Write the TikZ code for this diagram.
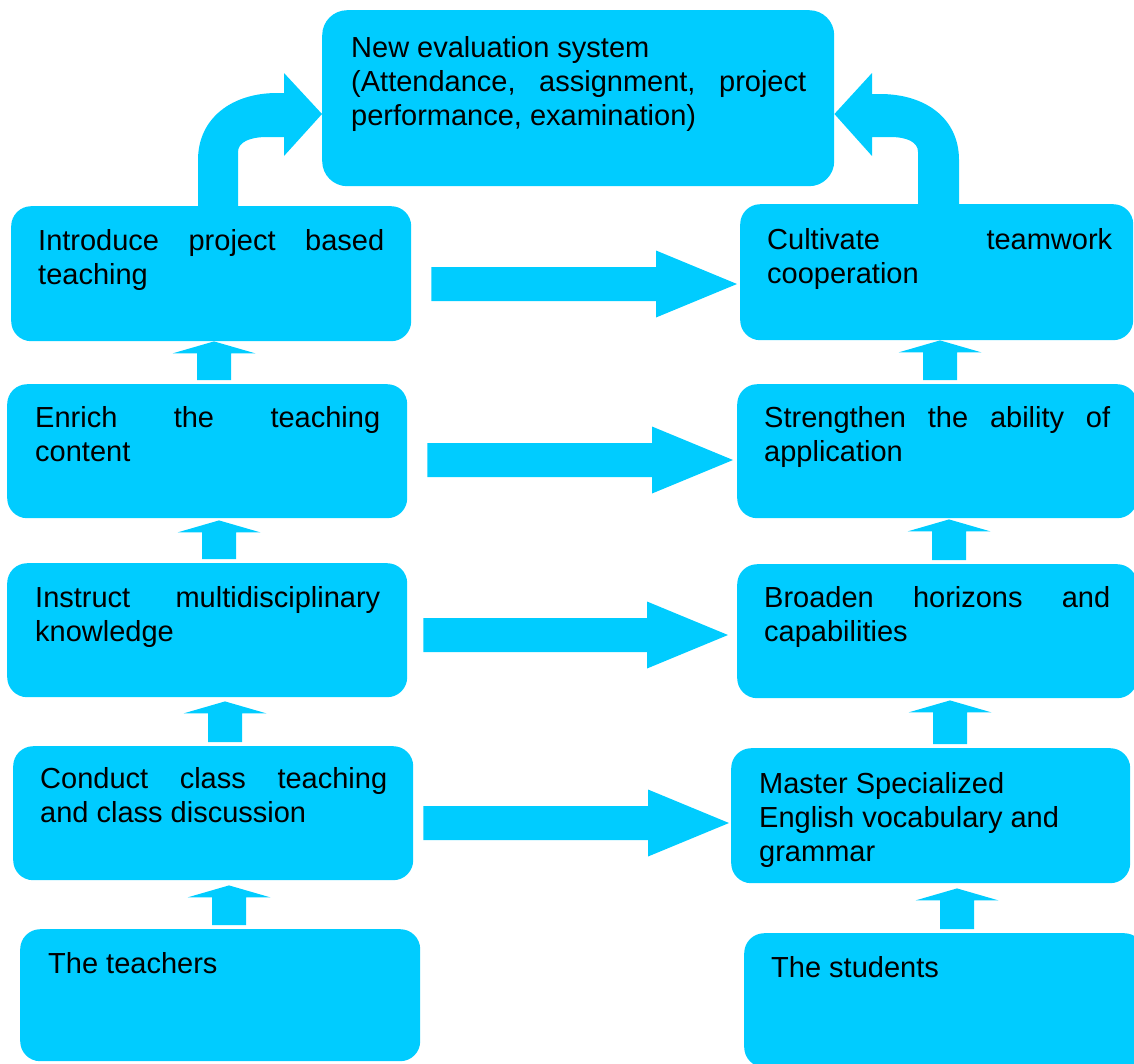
\documentclass[tikz,border=0pt]{standalone}
\usepackage{fontspec}
\setmainfont{Liberation Sans}
\usetikzlibrary{calc}
\definecolor{skyfill}{HTML}{00CCFF}

% a line of a caption stretched to the full text width
\newcommand\jline[1]{\makebox[\linewidth][s]{#1}\\}

% block arrow pointing right: #1 from panel, #2 to panel, #3 y, #4 start gap, #5 tip gap
\newcommand\rightblock[5]{%
  \fill[skyfill] let \p1=(#1.east), \p2=(#2.west), \p3=(0,#3) in
    (\x1+#4pt,\y3+17pt) -- (\x2-#5pt-81pt,\y3+17pt) -- (\x2-#5pt-81pt,\y3+33.5pt)
    -- (\x2-#5pt,\y3) -- (\x2-#5pt-81pt,\y3-33.5pt) -- (\x2-#5pt-81pt,\y3-17pt)
    -- (\x1+#4pt,\y3-17pt) -- cycle;}

% small block arrow pointing up: #1 x, #2 lower panel, #3 upper panel, #4 tip gap
\newcommand\upblock[4]{%
  \fill[skyfill] let \p1=(#2.north), \p2=(#3.south) in
    (#1pt-17pt,\y1+4pt) -- (#1pt-17pt,\y2-#4pt-12pt) -- (#1pt-41.5pt,\y2-#4pt-12pt)
    -- (#1pt,\y2-#4pt) -- (#1pt+41.5pt,\y2-#4pt-12pt) -- (#1pt+17pt,\y2-#4pt-12pt)
    -- (#1pt+17pt,\y1+4pt) -- cycle;}

\begin{document}
\begin{tikzpicture}[x=1pt,y=-1pt,
  panel/.style={fill=skyfill, draw=none, rounded corners=20pt, inner sep=0pt,
    anchor=north west, minimum width=400pt, minimum height=135pt},
  caption/.style={anchor=base west, inner sep=0pt, text=black,
    font=\fontsize{29pt}{34pt}\selectfont}]
\useasboundingbox (0,0) rectangle (1134,1063);
\clip (0,0) rectangle (1134,1063);

% panels
\node[panel, rounded corners=25pt, minimum width=512pt, minimum height=176pt] (eval) at (322,10) {};
\node[panel, minimum width=393pt, minimum height=136pt] (cult) at (740,204) {};
\node[panel] (intro)   at (11,206) {};
\node[panel, minimum height=134pt] (enrich)  at (7,384) {};
\node[panel, minimum height=134pt] (streng)  at (737,384) {};
\node[panel, minimum height=134pt] (instr)   at (7,563) {};
\node[panel, minimum height=134pt] (broad)   at (737,564) {};
\node[panel, minimum height=134pt] (conduct) at (13,746) {};
\node[panel, minimum width=399pt] (master) at (731,748) {};
\node[panel, minimum height=132pt] (teach)   at (20,929) {};
\node[panel, minimum height=134pt] (stud)    at (744,933) {};

% captions
\node[caption] (eval-t) at ($(eval.north west)+(29pt,-47pt)$)
  {\parbox[t]{455pt}{New evaluation system\\\jline{(Attendance, assignment, project}performance, examination)}};
\node[caption] (cult-t) at ($(cult.north west)+(27pt,-45pt)$)
  {\parbox[t]{345pt}{\jline{Cultivate teamwork}cooperation}};
\node[caption] (intro-t) at ($(intro.north west)+(27pt,-44pt)$)
  {\parbox[t]{346pt}{\jline{Introduce project based}teaching}};
\node[caption] (enrich-t) at ($(enrich.north west)+(28pt,-43pt)$)
  {\parbox[t]{345pt}{\jline{Enrich the teaching}content}};
\node[caption] (streng-t) at ($(streng.north west)+(27pt,-43pt)$)
  {\parbox[t]{346pt}{\jline{Strengthen the ability of}application}};
\node[caption] (instr-t) at ($(instr.north west)+(28pt,-44pt)$)
  {\parbox[t]{345pt}{\jline{Instruct multidisciplinary}knowledge}};
\node[caption] (broad-t) at ($(broad.north west)+(27pt,-43pt)$)
  {\parbox[t]{346pt}{\jline{Broaden horizons and}capabilities}};
\node[caption] (conduct-t) at ($(conduct.north west)+(27pt,-42pt)$)
  {\parbox[t]{347pt}{\jline{Conduct class teaching}and class discussion}};
\node[caption] (master-t) at ($(master.north west)+(28pt,-45pt)$)
  {\parbox[t]{346pt}{Master Specialized\\English vocabulary and\\grammar}};
\node[caption] (teach-t) at ($(teach.north west)+(28pt,-44pt)$) {The teachers};
\node[caption] (stud-t) at ($(stud.north west)+(27pt,-44pt)$) {The students};

% teacher actions lead to student outcomes
\rightblock{intro}{cult}{284}{20}{3}
\rightblock{enrich}{streng}{460}{20}{4}
\rightblock{instr}{broad}{635}{16}{9}
\rightblock{conduct}{master}{823}{10}{2}

% upward steps, teachers' side
\upblock{214}{enrich}{intro}{0}
\upblock{219}{instr}{enrich}{2}
\upblock{225}{conduct}{instr}{4}
\upblock{229}{teach}{conduct}{5}

% upward steps, students' side
\upblock{940}{streng}{cult}{0}
\upblock{949}{broad}{streng}{1}
\upblock{950}{master}{broad}{2}
\upblock{957}{stud}{master}{5}

% bent arrows into the evaluation system
\fill[skyfill] (198,0 |- intro.north) -- (198,160)
  .. controls (198,118) and (232,93) .. (277,93) -- (284,93) -- (284,73)
  -- (eval.west |- 0,114) -- (284,156) -- (284,137) -- (267,137)
  .. controls (250,137) and (238,142) .. (238,152) -- (238,0 |- intro.north) -- cycle;
\fill[skyfill] (959,0 |- cult.north) -- (959,160)
  .. controls (959,118) and (925,94) .. (880,94) -- (872,94) -- (872,73)
  -- (eval.east |- 0,114) -- (872,156) -- (872,137) -- (890,137)
  .. controls (907,137) and (918,142) .. (918,152) -- (918,0 |- cult.north) -- cycle;
\end{tikzpicture}
\end{document}
